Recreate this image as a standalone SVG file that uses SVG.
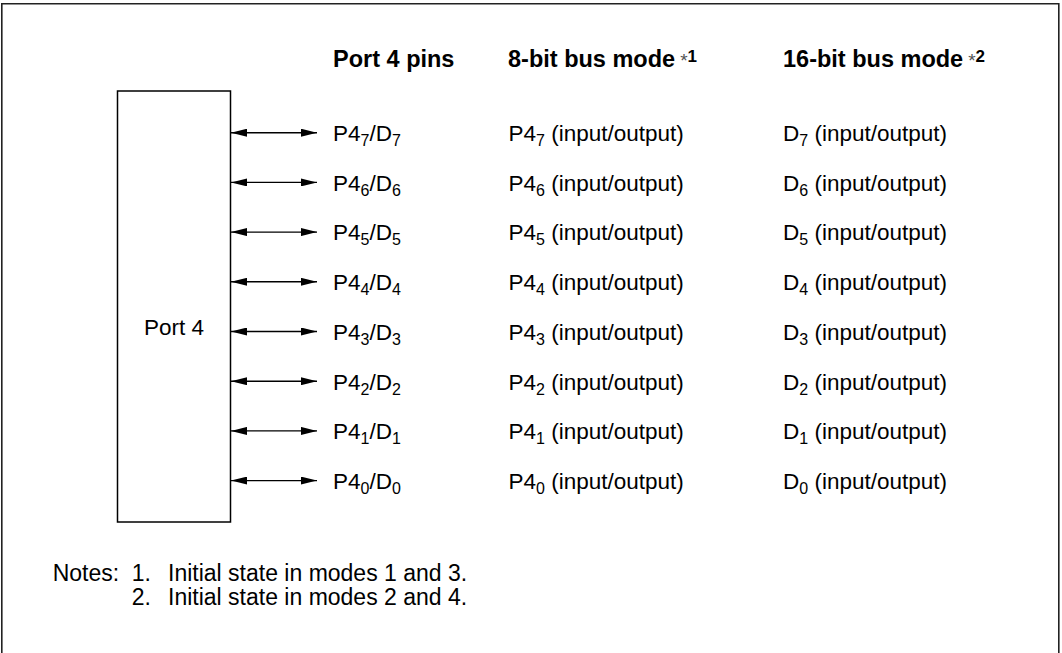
<svg xmlns="http://www.w3.org/2000/svg" width="1062" height="653" viewBox="0 0 1062 653">
<defs>
<style>
text{font-family:"Liberation Sans",Arial,sans-serif;fill:#000}
.t{font-size:22.5px}
.h{font-size:23.5px;font-weight:bold}
.n{font-size:23px}
.s{font-size:16px}
.ast{font-size:19px;font-weight:normal;fill:#555}
.sup{font-size:17px;font-weight:bold}
.ln{stroke:#000;stroke-width:1.4;fill:none}
</style>
<marker id="ah" viewBox="0 0 16 8" refX="16" refY="4" markerWidth="16" markerHeight="8" markerUnits="userSpaceOnUse" orient="auto-start-reverse">
<path d="M0,0 L16,4 L0,8 Z" fill="#000"/>
</marker>
</defs>
<rect width="1062" height="653" fill="#fff"/>
<path d="M1.8,653 V3.8 H1058.8 V653" fill="none" stroke="#222" stroke-width="1.6"/>
<g id="headers">
<text class="h" x="333" y="67">Port 4 pins</text>
<text class="h" x="508" y="67">8-bit bus mode<tspan class="ast" dx="5" dy="0">*</tspan><tspan class="sup" dy="-5">1</tspan></text>
<text class="h" x="783" y="67">16-bit bus mode<tspan class="ast" dx="5" dy="0">*</tspan><tspan class="sup" dy="-5">2</tspan></text>
</g>
<g id="port4">
<rect x="117.5" y="91" width="113" height="431" fill="#fff" stroke="#000" stroke-width="1.5"/>
<text class="t" x="174" y="335" text-anchor="middle">Port 4</text>
</g>
<g id="connectors">
<line class="ln" x1="231" y1="132.7" x2="317" y2="132.7" marker-start="url(#ah)" marker-end="url(#ah)"/>
<line class="ln" x1="231" y1="182.4" x2="317" y2="182.4" marker-start="url(#ah)" marker-end="url(#ah)"/>
<line class="ln" x1="231" y1="232.1" x2="317" y2="232.1" marker-start="url(#ah)" marker-end="url(#ah)"/>
<line class="ln" x1="231" y1="281.8" x2="317" y2="281.8" marker-start="url(#ah)" marker-end="url(#ah)"/>
<line class="ln" x1="231" y1="331.5" x2="317" y2="331.5" marker-start="url(#ah)" marker-end="url(#ah)"/>
<line class="ln" x1="231" y1="381.2" x2="317" y2="381.2" marker-start="url(#ah)" marker-end="url(#ah)"/>
<line class="ln" x1="231" y1="430.9" x2="317" y2="430.9" marker-start="url(#ah)" marker-end="url(#ah)"/>
<line class="ln" x1="231" y1="480.6" x2="317" y2="480.6" marker-start="url(#ah)" marker-end="url(#ah)"/>
</g>
<g id="rows">
<g id="row7">
<text class="t" x="333" y="141">P4<tspan class="s" dy="5">7</tspan><tspan dy="-5">/D</tspan><tspan class="s" dy="5">7</tspan></text>
<text class="t" x="508.5" y="141">P4<tspan class="s" dy="5">7</tspan><tspan dy="-5"> (input/output)</tspan></text>
<text class="t" x="783" y="141">D<tspan class="s" dy="5">7</tspan><tspan dy="-5"> (input/output)</tspan></text>
</g>
<g id="row6">
<text class="t" x="333" y="190.7">P4<tspan class="s" dy="5">6</tspan><tspan dy="-5">/D</tspan><tspan class="s" dy="5">6</tspan></text>
<text class="t" x="508.5" y="190.7">P4<tspan class="s" dy="5">6</tspan><tspan dy="-5"> (input/output)</tspan></text>
<text class="t" x="783" y="190.7">D<tspan class="s" dy="5">6</tspan><tspan dy="-5"> (input/output)</tspan></text>
</g>
<g id="row5">
<text class="t" x="333" y="240.4">P4<tspan class="s" dy="5">5</tspan><tspan dy="-5">/D</tspan><tspan class="s" dy="5">5</tspan></text>
<text class="t" x="508.5" y="240.4">P4<tspan class="s" dy="5">5</tspan><tspan dy="-5"> (input/output)</tspan></text>
<text class="t" x="783" y="240.4">D<tspan class="s" dy="5">5</tspan><tspan dy="-5"> (input/output)</tspan></text>
</g>
<g id="row4">
<text class="t" x="333" y="290.1">P4<tspan class="s" dy="5">4</tspan><tspan dy="-5">/D</tspan><tspan class="s" dy="5">4</tspan></text>
<text class="t" x="508.5" y="290.1">P4<tspan class="s" dy="5">4</tspan><tspan dy="-5"> (input/output)</tspan></text>
<text class="t" x="783" y="290.1">D<tspan class="s" dy="5">4</tspan><tspan dy="-5"> (input/output)</tspan></text>
</g>
<g id="row3">
<text class="t" x="333" y="339.8">P4<tspan class="s" dy="5">3</tspan><tspan dy="-5">/D</tspan><tspan class="s" dy="5">3</tspan></text>
<text class="t" x="508.5" y="339.8">P4<tspan class="s" dy="5">3</tspan><tspan dy="-5"> (input/output)</tspan></text>
<text class="t" x="783" y="339.8">D<tspan class="s" dy="5">3</tspan><tspan dy="-5"> (input/output)</tspan></text>
</g>
<g id="row2">
<text class="t" x="333" y="389.5">P4<tspan class="s" dy="5">2</tspan><tspan dy="-5">/D</tspan><tspan class="s" dy="5">2</tspan></text>
<text class="t" x="508.5" y="389.5">P4<tspan class="s" dy="5">2</tspan><tspan dy="-5"> (input/output)</tspan></text>
<text class="t" x="783" y="389.5">D<tspan class="s" dy="5">2</tspan><tspan dy="-5"> (input/output)</tspan></text>
</g>
<g id="row1">
<text class="t" x="333" y="439.2">P4<tspan class="s" dy="5">1</tspan><tspan dy="-5">/D</tspan><tspan class="s" dy="5">1</tspan></text>
<text class="t" x="508.5" y="439.2">P4<tspan class="s" dy="5">1</tspan><tspan dy="-5"> (input/output)</tspan></text>
<text class="t" x="783" y="439.2">D<tspan class="s" dy="5">1</tspan><tspan dy="-5"> (input/output)</tspan></text>
</g>
<g id="row0">
<text class="t" x="333" y="488.9">P4<tspan class="s" dy="5">0</tspan><tspan dy="-5">/D</tspan><tspan class="s" dy="5">0</tspan></text>
<text class="t" x="508.5" y="488.9">P4<tspan class="s" dy="5">0</tspan><tspan dy="-5"> (input/output)</tspan></text>
<text class="t" x="783" y="488.9">D<tspan class="s" dy="5">0</tspan><tspan dy="-5"> (input/output)</tspan></text>
</g>
</g>
<g id="notes">
<text class="n" x="52.7" y="581">Notes:<tspan x="131.7">1.</tspan><tspan x="168">Initial state in modes 1 and 3.</tspan></text>
<text class="n" x="131.7" y="605">2.<tspan x="168">Initial state in modes 2 and 4.</tspan></text>
</g>
</svg>
